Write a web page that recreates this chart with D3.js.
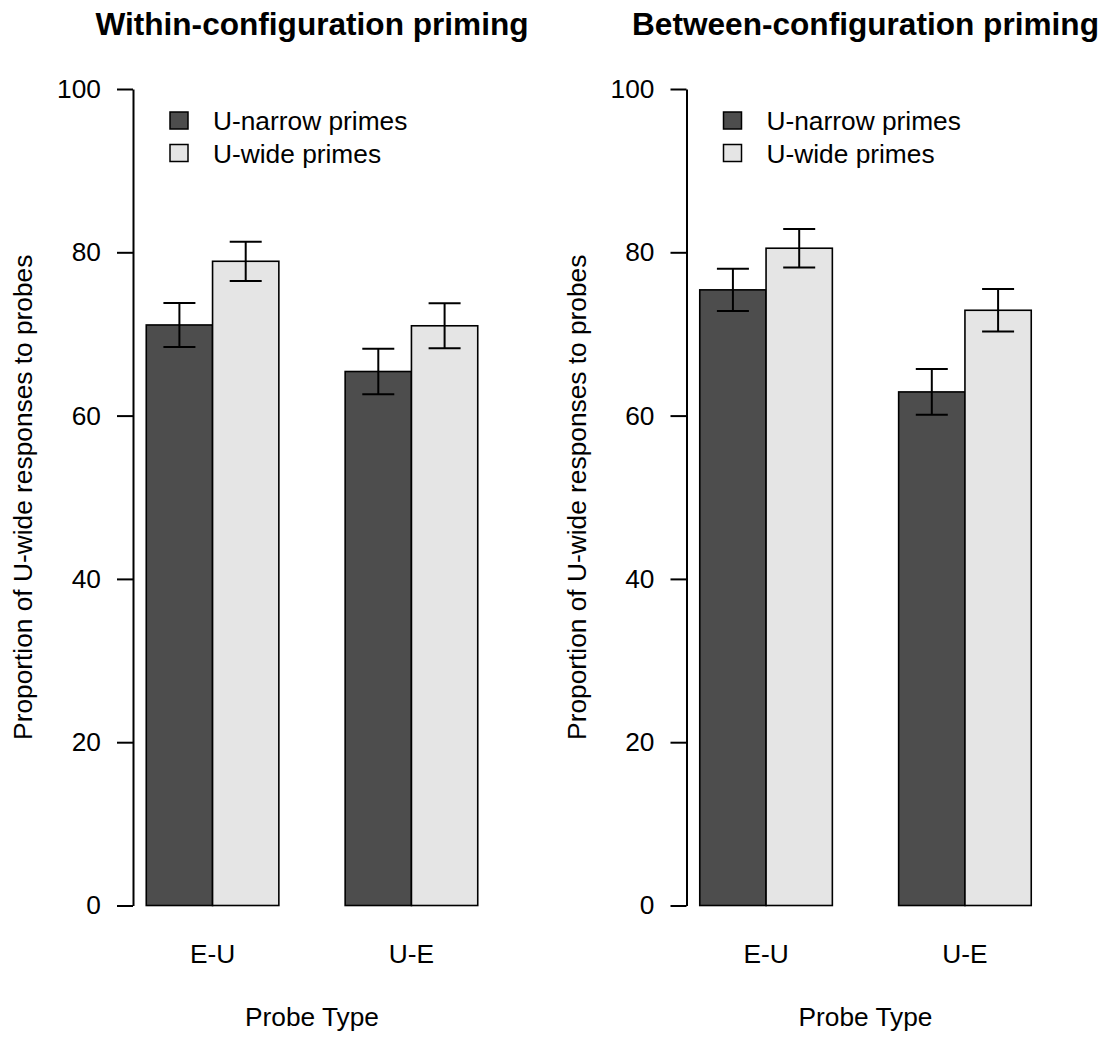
<!DOCTYPE html>
<html>
<head>
<meta charset="utf-8">
<script src="https://cdn.jsdelivr.net/npm/d3@7"></script>
<style>
  body { margin: 0; background: #fff; }
  svg text { font-family: "Liberation Sans", Arial, sans-serif; fill: #000; }
</style>
</head>
<body>
<div id="chart"></div>
<script>
const probeTypes = ["E-U", "U-E"];
const primeTypes = ["U-narrow primes", "U-wide primes"];
const panelTitles = ["Within-configuration priming", "Between-configuration priming"];
const yTicks = [0, 20, 40, 60, 80, 100];

// means per probe type: [U-narrow, U-wide]
const withinMeans = [[71.1, 78.9], [65.4, 71.0]];
const withinSE = [[2.7, 2.4], [2.8, 2.75]];
const betweenMeans = [[75.4, 80.5], [62.9, 72.9]];
const betweenSE = [[2.6, 2.35], [2.8, 2.6]];

const panels = [
    {title: panelTitles[0], means: withinMeans, se: withinSE},
    {title: panelTitles[1], means: betweenMeans, se: betweenSE}
];

const width = 1108, height = 1037, panelWidth = 553.5;
const fills = ["#4d4d4d", "#e5e5e5"];
const fontSize = "26.3px";

let svg = d3.select("#chart")
    .append("svg")
    .attr("width", width)
    .attr("height", height);

// bar units like R barplot: bars at 1..3 and 4..6
let x = d3.scaleLinear().domain([0.8, 6.2]).range([133, 491]);
let y = d3.scaleLinear().domain([0, 100]).range([905.5, 89]);

panels.forEach(function (panel, p) {
    let g = svg.append("g")
        .attr("transform", "translate(" + (p * panelWidth) + ",0)");

    // title
    g.append("text")
        .attr("x", (x.range()[0] + x.range()[1]) / 2)
        .attr("y", 35)
        .attr("text-anchor", "middle")
        .attr("font-size", "31.6px")
        .attr("font-weight", "bold")
        .text(panel.title);

    // bars
    let bars = [];
    panel.means.forEach(function (row, i) {
        row.forEach(function (v, j) {
            bars.push({probe: i, prime: j, value: v, se: panel.se[i][j], u: 1 + i * 3 + j});
        });
    });

    g.selectAll("rect.bar")
        .data(bars)
        .enter()
        .append("rect")
        .attr("class", "bar")
        .attr("x", d => x(d.u))
        .attr("width", d => x(d.u + 1) - x(d.u))
        .attr("y", d => y(d.value))
        .attr("height", d => y(0) - y(d.value))
        .attr("fill", d => fills[d.prime])
        .attr("stroke", "#000")
        .attr("stroke-width", 1.6);

    // error bars
    let cap = 16;
    let err = g.append("g")
        .attr("stroke", "#000")
        .attr("stroke-width", 2);
    bars.forEach(function (d) {
        let cx = x(d.u + 0.5);
        err.append("line")
            .attr("x1", cx).attr("x2", cx)
            .attr("y1", y(d.value - d.se)).attr("y2", y(d.value + d.se));
        err.append("line")
            .attr("x1", cx - cap).attr("x2", cx + cap)
            .attr("y1", y(d.value + d.se)).attr("y2", y(d.value + d.se));
        err.append("line")
            .attr("x1", cx - cap).attr("x2", cx + cap)
            .attr("y1", y(d.value - d.se)).attr("y2", y(d.value - d.se));
    });

    // y axis
    let axis = g.append("g")
        .attr("transform", "translate(" + x.range()[0] + ",0)")
        .call(d3.axisLeft(y).tickValues(yTicks).tickSize(16).tickPadding(16).tickSizeOuter(0));
    axis.select(".domain").attr("stroke-width", 2);
    axis.selectAll(".tick line").attr("stroke-width", 2);
    axis.selectAll(".tick text")
        .attr("font-size", fontSize)
        .attr("font-family", "Liberation Sans, Arial, sans-serif");

    // x category labels
    g.selectAll("text.cat")
        .data(probeTypes)
        .enter()
        .append("text")
        .attr("class", "cat")
        .attr("x", (d, i) => x(2 + i * 3))
        .attr("y", 963)
        .attr("text-anchor", "middle")
        .attr("font-size", fontSize)
        .text(d => d);

    // axis titles
    g.append("text")
        .attr("x", (x.range()[0] + x.range()[1]) / 2)
        .attr("y", 1026)
        .attr("text-anchor", "middle")
        .attr("font-size", fontSize)
        .text("Probe Type");

    g.append("text")
        .attr("transform", "translate(32," + ((y(-4) + y(104)) / 2) + ") rotate(-90)")
        .attr("text-anchor", "middle")
        .attr("font-size", fontSize)
        .text("Proportion of U-wide responses to probes");

    // legend
    let legend = g.selectAll("g.legend")
        .data(primeTypes)
        .enter()
        .append("g")
        .attr("class", "legend")
        .attr("transform", (d, i) => "translate(170," + (112 + i * 32.5) + ")");
    legend.append("rect")
        .attr("width", 18)
        .attr("height", 17)
        .attr("fill", (d, i) => fills[i])
        .attr("stroke", "#000")
        .attr("stroke-width", 1.5);
    legend.append("text")
        .attr("x", 43)
        .attr("y", 18)
        .attr("font-size", fontSize)
        .text(d => d);
});
</script>
</body>
</html>
